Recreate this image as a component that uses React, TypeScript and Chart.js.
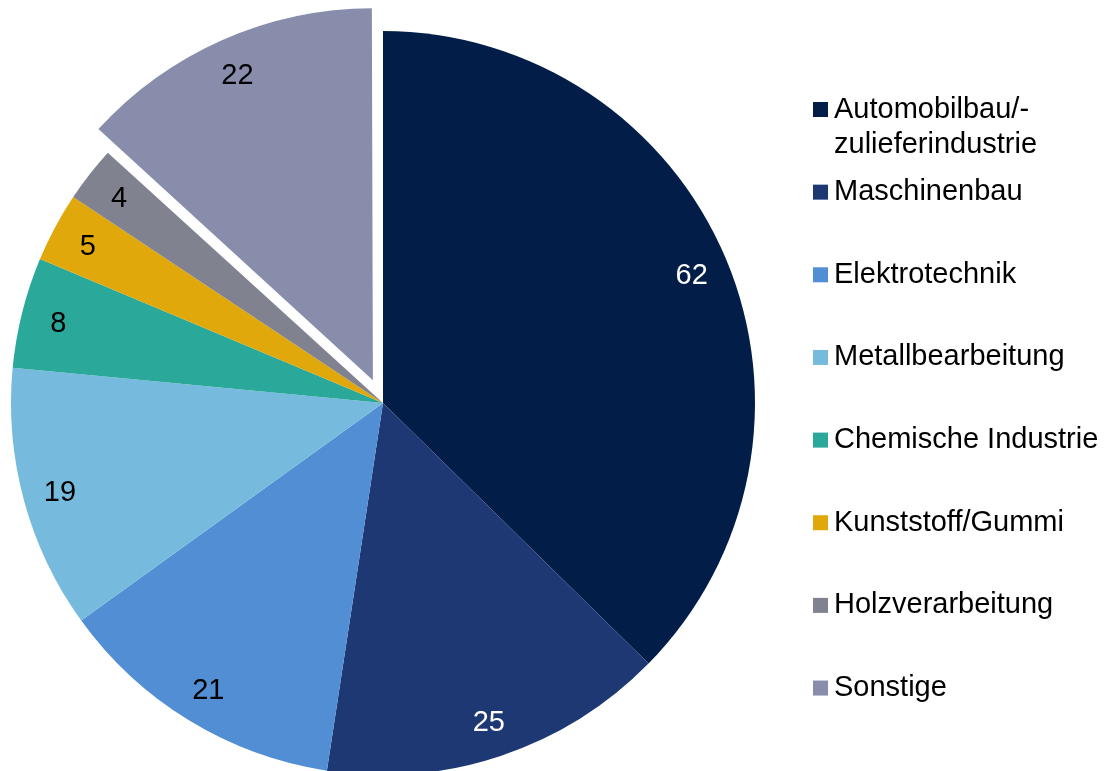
import React, { useEffect, useRef } from "react";
import { Chart, registerables } from "chart.js";

Chart.register(...registerables);

// ---- data ----
const categories = [
  "Automobilbau/-\nzulieferindustrie",
  "Maschinenbau",
  "Elektrotechnik",
  "Metallbearbeitung",
  "Chemische Industrie",
  "Kunststoff/Gummi",
  "Holzverarbeitung",
  "Sonstige",
];
const values = [62, 25, 21, 19, 8, 5, 4, 22];
const sliceColors = [
  "#021E48",
  "#1E3874",
  "#528ED4",
  "#76BBDD",
  "#2AA89A",
  "#E0A80A",
  "#808290",
  "#878DAB",
];
const valueLabelColors = ["#FFFFFF", "#FFFFFF", "#000000", "#000000", "#000000", "#000000", "#000000", "#000000"];
const explodeOffsets = [0, 0, 0, 0, 0, 0, 0, 100];

// ---- style constants ----
const W = 1106;
const H = 771;
const RADIUS = 372;
const FONT = '"Liberation Sans", Arial, sans-serif';
const LABEL_SIZE = 29;
const LEGEND_SIZE = 29;
const LEGEND_X = 813;
const LEGEND_TEXT_X = 834;
const LEGEND_TOP = 109.5;
const LEGEND_STEP = 82.65;
const LEGEND_BOX = 15;
const LINE_H = 35;

const explodeFix = {
  id: "explodeFix",
  afterDatasetsUpdate(chart: any) {
    const meta = chart.getDatasetMeta(0);
    meta.data.forEach((arc: any) => {
      const off = ((arc.options && arc.options.offset) || 0) / 4;
      if (off) {
        const fix = 1 - Math.sin(Math.min(Math.PI, arc.circumference));
        arc.outerRadius = RADIUS - off * fix;
      }
    });
  },
};

const sliceLabels = {
  id: "sliceLabels",
  afterDatasetsDraw(chart: any) {
    const ctx = chart.ctx;
    const meta = chart.getDatasetMeta(0);
    ctx.save();
    ctx.font = `${LABEL_SIZE}px ${FONT}`;
    ctx.textAlign = "center";
    ctx.textBaseline = "alphabetic";
    meta.data.forEach((arc: any, i: number) => {
      const mid = (arc.startAngle + arc.endAngle) / 2;
      const off = ((arc.options && arc.options.offset) || 0) / 4;
      const r = RADIUS * 0.9 + off;
      const x = arc.x + Math.cos(mid) * r;
      const y = arc.y + Math.sin(mid) * r;
      ctx.fillStyle = valueLabelColors[i];
      ctx.fillText(String(values[i]), x, y + LABEL_SIZE * 0.358);
    });
    ctx.restore();
  },
};

const sideLegend = {
  id: "sideLegend",
  afterDraw(chart: any) {
    const ctx = chart.ctx;
    ctx.save();
    ctx.font = `${LEGEND_SIZE}px ${FONT}`;
    ctx.textAlign = "left";
    ctx.textBaseline = "alphabetic";
    categories.forEach((cat, i) => {
      const cy = LEGEND_TOP + i * LEGEND_STEP;
      ctx.fillStyle = sliceColors[i];
      ctx.fillRect(LEGEND_X, cy - LEGEND_BOX / 2, LEGEND_BOX, LEGEND_BOX);
      ctx.fillStyle = "#000000";
      cat.split("\n").forEach((line, j) => {
        ctx.fillText(line, LEGEND_TEXT_X, cy + 8 + j * LINE_H);
      });
    });
    ctx.restore();
  },
};

export default function App() {
  const ref = useRef<HTMLCanvasElement | null>(null);

  useEffect(() => {
    document.body.style.margin = "0";
    document.body.style.overflow = "hidden";
    const canvas = ref.current;
    if (!canvas) return;
    const chart = new Chart(canvas, {
      type: "pie",
      data: {
        labels: categories.map((c) => c.replace("\n", "")),
        datasets: [
          {
            data: values,
            backgroundColor: sliceColors,
            borderWidth: 0,
            offset: explodeOffsets,
            clip: false,
          } as any,
        ],
      },
      options: {
        animation: false,
        responsive: false,
        radius: RADIUS,
        layout: { padding: { left: 0, right: W - 766, top: 35, bottom: 0 } },
        plugins: {
          legend: { display: false },
          tooltip: { enabled: false },
          title: { display: false },
        },
      } as any,
      plugins: [explodeFix, sliceLabels, sideLegend],
    });
    return () => chart.destroy();
  }, []);

  return (
    <div style={{ width: W, height: H, background: "#FFFFFF" }}>
      <canvas ref={ref} width={W} height={H} style={{ display: "block", width: W, height: H }} />
    </div>
  );
}
